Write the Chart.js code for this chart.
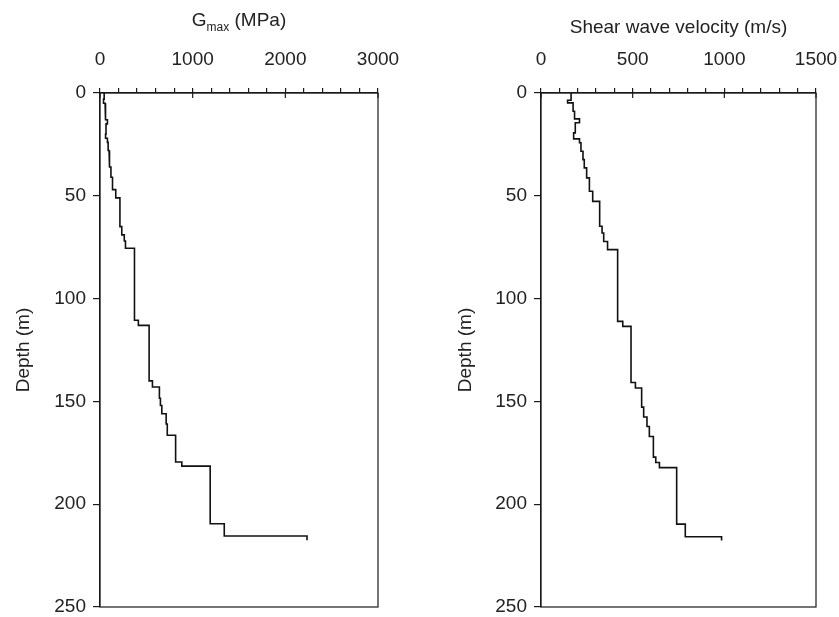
<!DOCTYPE html>
<html>
<head>
<meta charset="utf-8">
<script src="https://cdn.jsdelivr.net/npm/chart.js@4.4.1/dist/chart.umd.min.js"></script>
<style>
  html, body { margin: 0; padding: 0; background: #fff; }
  #wrap { position: relative; width: 839px; height: 617px; }
  canvas { position: absolute; top: 0; }
</style>
</head>
<body>
<div id="wrap">
  <canvas id="gmaxChart" width="420" height="617" style="left:0px"></canvas>
  <canvas id="vsChart" width="419" height="617" style="left:420px"></canvas>
</div>
<script>
// layer boundaries (depth, m) and layer values
const gmaxDepths = [0, 3, 5, 9, 13, 15, 20, 22, 24, 28, 32, 36, 41, 47, 51, 65, 69, 72, 75.5,
  110.5, 113, 140, 143, 148.5, 152, 156, 161, 166.5, 179.5, 181.5, 209.5, 215.5, 217.5];
const gmaxValues = [45, 38, 55, 62, 80, 65, 60, 80, 88, 98, 105, 118, 135, 170, 215, 235, 262, 275,
  372, 414, 530, 566, 641, 652, 667, 714, 726, 816, 883, 1189, 1341, 2234];

const vsDepths = [0, 3.5, 4.8, 8.9, 12.6, 14.5, 19.4, 22.3, 24.2, 28.3, 32.4, 36.4, 41.3, 47.8, 52.7,
  64.8, 68.1, 72.2, 76.2, 111.1, 113.5, 140.8, 143.5, 152.8, 157.6, 162.2, 167.1, 177.1, 179.7,
  182.2, 209.7, 215.8, 217.7];
const vsValues = [164, 145, 175, 183, 210, 187, 178, 210, 218, 229, 236, 249, 264, 282, 320, 333,
  342, 363, 418, 446, 491, 515, 549, 560, 578, 591, 613, 626, 646, 740, 787, 985];

const depthTicks = [0, 50, 100, 150, 200, 250];
const gmaxMajor = [0, 1000, 2000, 3000];
const vsMajor = [0, 500, 1000, 1500];

const FONT = "'Liberation Sans', Arial, sans-serif";
const INK = '#1a1a1a';

// turn layers into a step line: each layer gives a top and bottom point
function stepPoints(depths, values) {
  const pts = [];
  values.forEach((v, i) => {
    pts.push({ x: v, y: depths[i] });
    pts.push({ x: v, y: depths[i + 1] });
  });
  return pts;
}

// box around the plot + major ticks poking into it
const framePlugin = {
  id: 'frame',
  afterDraw(chart, args, opts) {
    const { ctx, chartArea: a } = chart;
    const x = chart.scales.x;
    ctx.save();
    ctx.strokeStyle = INK;
    ctx.lineWidth = 1.2;
    ctx.strokeRect(a.left, a.top, a.right - a.left, a.bottom - a.top);
    opts.majors.forEach(v => {
      const px = x.getPixelForValue(v);
      ctx.beginPath();
      ctx.moveTo(px, a.top);
      ctx.lineTo(px, a.top + 5);
      ctx.stroke();
    });
    ctx.restore();
  }
};

// G with subscript "max"
const gmaxTitle = {
  id: 'gmaxTitle',
  afterDraw(chart) {
    const { ctx, chartArea: a } = chart;
    const cy = 21;
    ctx.save();
    ctx.fillStyle = '#222';
    ctx.textBaseline = 'middle';
    ctx.font = '19px ' + FONT;
    const wG = ctx.measureText('G').width;
    const wRest = ctx.measureText(' (MPa)').width;
    ctx.font = '12px ' + FONT;
    const wSub = ctx.measureText('max').width;
    let x0 = (a.left + a.right) / 2 - (wG + wSub + wRest) / 2;
    ctx.font = '19px ' + FONT;
    ctx.fillText('G', x0, cy);
    ctx.font = '12px ' + FONT;
    ctx.fillText('max', x0 + wG, cy + 7);
    ctx.font = '19px ' + FONT;
    ctx.fillText(' (MPa)', x0 + wG + wSub, cy);
    ctx.restore();
  }
};

function makeProfile(canvasId, pts, cfg) {
  return new Chart(document.getElementById(canvasId), {
    type: 'scatter',
    data: {
      datasets: [{
        data: pts,
        showLine: true,
        borderColor: '#111',
        borderWidth: 1.6,
        pointRadius: 0,
        tension: 0,
        clip: false
      }]
    },
    options: {
      responsive: false,
      animation: false,
      layout: { padding: { left: 0, top: 0, right: cfg.padRight, bottom: 10 } },
      plugins: {
        legend: { display: false },
        tooltip: { enabled: false },
        frame: { majors: cfg.majors }
      },
      scales: {
        x: {
          type: 'linear',
          position: 'top',
          min: 0,
          max: cfg.xMax,
          afterFit: s => { s.height = 93; s.paddingLeft = 0; s.paddingRight = 0; },
          afterBuildTicks: s => {
            s.ticks = [];
            for (let v = 0; v <= cfg.xMax; v += cfg.minorStep) s.ticks.push({ value: v });
          },
          ticks: {
            autoSkip: false,
            maxRotation: 0,
            padding: 19,
            color: '#222',
            font: { family: FONT, size: 19, lineHeight: 1 },
            callback: v => (cfg.majors.includes(v) ? String(v) : '')
          },
          grid: { drawOnChartArea: false, tickLength: 5, color: INK, lineWidth: 1.2 },
          border: { color: INK, width: 1.2 },
          title: cfg.xTitle ? {
            display: true,
            text: cfg.xTitle,
            color: '#222',
            font: { family: FONT, size: 19 },
            padding: { top: 16 }
          } : { display: false }
        },
        y: {
          type: 'linear',
          reverse: true,
          min: 0,
          max: 250,
          afterFit: s => { s.width = cfg.yWidth; s.paddingTop = 0; s.paddingBottom = 0; },
          afterBuildTicks: s => { s.ticks = depthTicks.map(v => ({ value: v })); },
          ticks: {
            padding: 7,
            color: '#222',
            font: { family: FONT, size: 19, lineHeight: 1 }
          },
          grid: { drawOnChartArea: false, tickLength: 7, color: INK, lineWidth: 1.2 },
          border: { color: INK, width: 1.2 },
          title: {
            display: true,
            text: 'Depth (m)',
            color: '#222',
            font: { family: FONT, size: 19 },
            padding: { top: cfg.yTitlePad }
          }
        }
      }
    },
    plugins: cfg.extra ? [framePlugin, cfg.extra] : [framePlugin]
  });
}

makeProfile('gmaxChart', stepPoints(gmaxDepths, gmaxValues), {
  xMax: 3000, minorStep: 200, majors: gmaxMajor,
  yWidth: 100, padRight: 42, yTitlePad: 12, extra: gmaxTitle
});

makeProfile('vsChart', stepPoints(vsDepths, vsValues), {
  xMax: 1500, minorStep: 100, majors: vsMajor,
  yWidth: 121, padRight: 23, yTitlePad: 34, xTitle: 'Shear wave velocity (m/s)'
});
</script>
</body>
</html>
